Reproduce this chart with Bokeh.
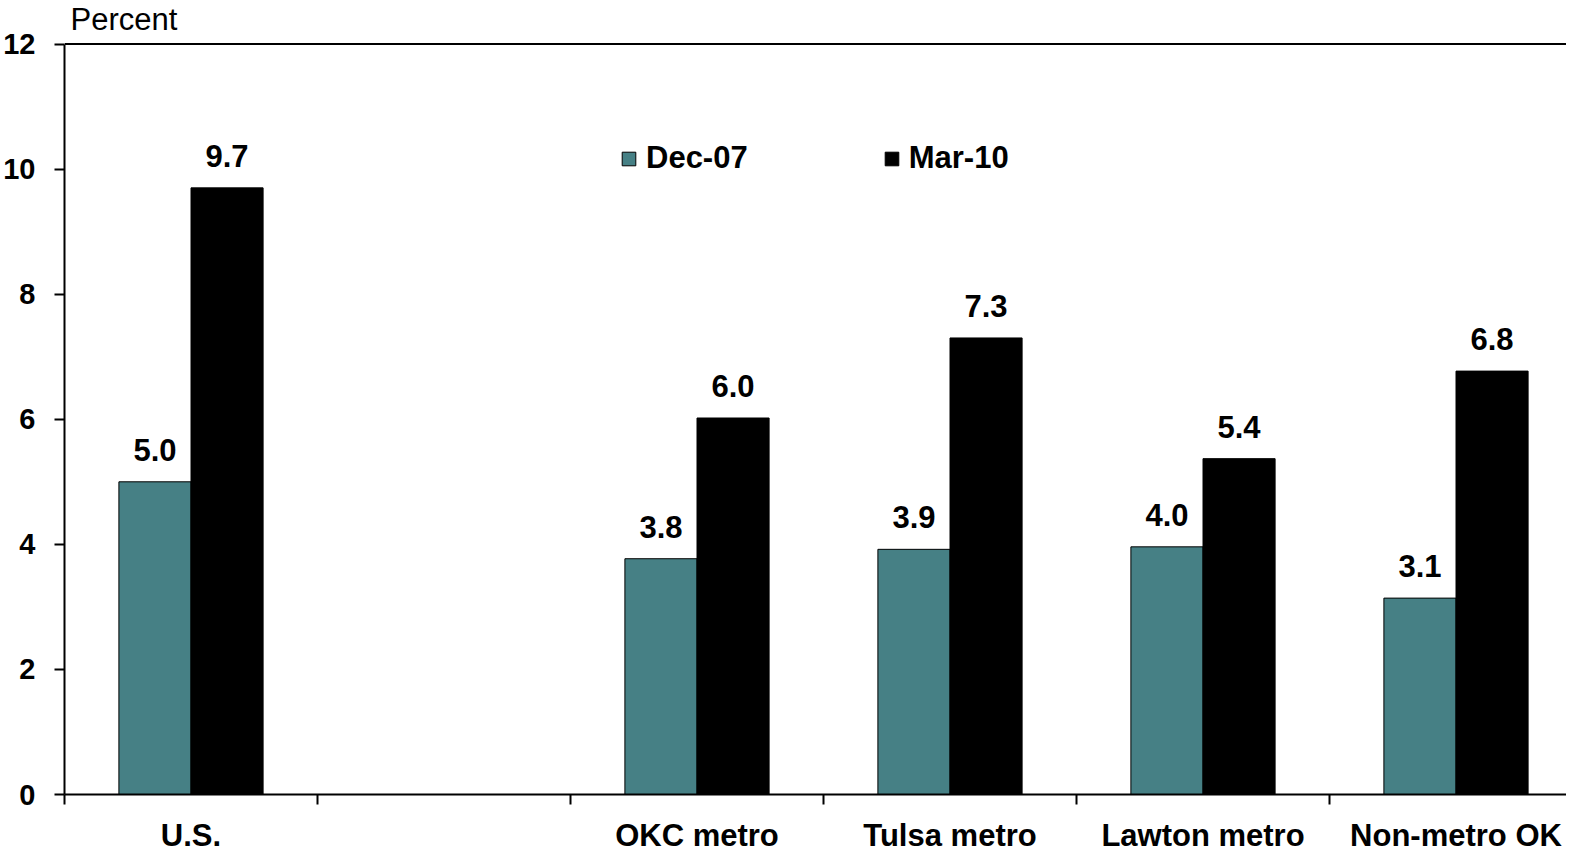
from bokeh.plotting import figure
from bokeh.models import ColumnDataSource, FixedTicker, Span, Label, Legend, LegendItem, Range1d
from bokeh.core.properties import value
from bokeh.embed import file_html
from bokeh.resources import INLINE

categories = ["U.S.", "", "OKC metro", "Tulsa metro", "Lawton metro", "Non-metro OK"]
dec07 = [5.0, None, 3.77, 3.92, 3.96, 3.14]
mar10 = [9.7, None, 6.02, 7.3, 5.37, 6.77]
series_names = ["Dec-07", "Mar-10"]
series_colors = ["#468085", "#000000"]
y_ticks = [0, 2, 4, 6, 8, 10, 12]
Y_MAX = 12

FONT = "Liberation Sans"
BAR_W = 0.285
FRAME_W = 1502
FRAME_H = 794
PX_PER_CAT = 253.0
PX_PER_UNIT = 62.54
X_END = -0.5 + FRAME_W / PX_PER_CAT
Y_TOP = FRAME_H / PX_PER_UNIT   # headroom above 12 for the "Percent" label

p = figure(width=1566, height=842, output_backend="svg", toolbar_location=None, title=None,
           x_range=Range1d(-0.5, X_END), y_range=Range1d(0, Y_TOP),
           frame_width=FRAME_W, frame_height=FRAME_H,
           min_border_left=64, min_border_right=0, min_border_top=0, min_border_bottom=48)
p.xgrid.visible = False
p.ygrid.visible = False
p.outline_line_color = None
p.background_fill_color = "white"
p.border_fill_color = "white"

renderers = []
for vals, color, offset in zip([dec07, mar10], series_colors, [-BAR_W / 2, BAR_W / 2]):
    xs, ys, labels = [], [], []
    for i, v in enumerate(vals):
        if v is None:
            continue
        xs.append(i + offset)
        ys.append(v)
        labels.append(f"{v:.1f}")
    src = ColumnDataSource(dict(x=xs, top=ys, label=labels))
    r = p.vbar(x="x", top="top", width=BAR_W, bottom=0, source=src,
               fill_color=color, line_color="black", line_width=1)
    renderers.append(r)
    p.text(x="x", y="top", text="label", source=src, text_align="center",
           text_baseline="alphabetic", y_offset=-32,
           text_font=value(FONT), text_font_size="31px", text_font_style="bold",
           text_color="black")

legend = Legend(items=[LegendItem(label=n, renderers=[r]) for n, r in zip(series_names, renderers)],
                orientation="horizontal", location=(556, 618),
                glyph_width=17, glyph_height=17, label_standoff=9, spacing=135,
                padding=0, margin=0, border_line_color=None, background_fill_alpha=0,
                label_text_font=FONT, label_text_font_size="31px", label_text_font_style="bold",
                label_text_color="black")
p.add_layout(legend, "center")

# x axis
xa = p.xaxis[0]
xa.ticker = FixedTicker(ticks=list(range(len(categories))),
                        minor_ticks=[i - 0.5 for i in range(len(categories) + 1)])
xa.major_label_overrides = {i: c for i, c in enumerate(categories)}
xa.major_tick_out = 0
xa.major_tick_in = 0
xa.minor_tick_out = 10
xa.minor_tick_in = 0
xa.minor_tick_line_width = 2
xa.minor_tick_line_color = "black"
xa.axis_line_width = 2
xa.axis_line_color = "black"
xa.major_label_standoff = 13
xa.major_label_text_font = FONT
xa.major_label_text_font_size = "31px"
xa.major_label_text_font_style = "bold"
xa.major_label_text_color = "black"

# y axis
ya = p.yaxis[0]
ya.ticker = FixedTicker(ticks=y_ticks)
ya.bounds = (0, Y_MAX)
ya.major_tick_out = 10
ya.major_tick_in = 0
ya.minor_tick_line_color = None
ya.major_tick_line_width = 2
ya.major_tick_line_color = "black"
ya.axis_line_width = 2
ya.axis_line_color = "black"
ya.major_label_standoff = 19
ya.major_label_text_font = FONT
ya.major_label_text_font_size = "29px"
ya.major_label_text_font_style = "bold"
ya.major_label_text_color = "black"

p.add_layout(Span(location=Y_MAX, dimension="width", line_color="black", line_width=2))

p.add_layout(Label(x=-0.5, y=Y_MAX, x_offset=6, y_offset=42, text="Percent",
                   text_font=FONT, text_font_size="31px", text_baseline="top",
                   text_color="black"))

open("out.html", "w").write(file_html(p, INLINE))
